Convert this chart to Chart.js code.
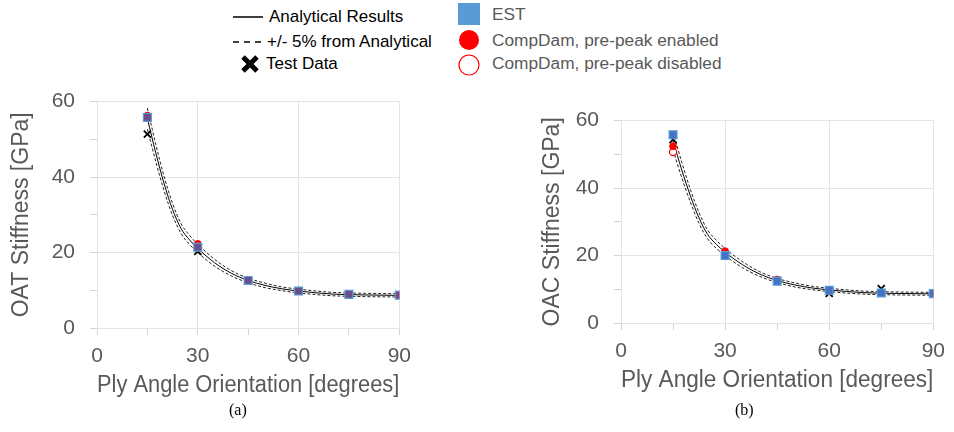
<!DOCTYPE html>
<html>
<head>
<meta charset="utf-8">
<script src="https://cdn.jsdelivr.net/npm/chart.js@4.4.1/dist/chart.umd.min.js"></script>
<style>
  body { margin: 0; width: 954px; height: 432px; background: #fff; position: relative; overflow: hidden; font-family: "Liberation Sans", Arial, sans-serif; }
  .box { position: absolute; }
  .lg { position: absolute; height: 20px; line-height: 20px; white-space: nowrap; }
  .lg.left { color: #000; font-size: 17px; }
  .lg.right { color: #595959; font-size: 17.3px; }
  .cap { position: absolute; font-family: "Liberation Serif", "Times New Roman", serif; font-size: 16px; color: #000; }
</style>
</head>
<body>
<svg class="box" style="left:0;top:0" width="954" height="85">
  <line x1="233" y1="17" x2="263" y2="17" stroke="#000" stroke-width="1.5"/>
  <line x1="233" y1="42" x2="263" y2="42" stroke="#000" stroke-width="1.5" stroke-dasharray="6,5"/>
  <line x1="243" y1="57" x2="257" y2="71" stroke="#000" stroke-width="5"/>
  <line x1="257" y1="57" x2="243" y2="71" stroke="#000" stroke-width="5"/>
  <rect x="458" y="3" width="22" height="22" fill="#5b9bd5"/>
  <circle cx="469" cy="40" r="10" fill="#ff0000"/>
  <circle cx="469" cy="65" r="10" fill="none" stroke="#ff0000" stroke-width="1.2"/>
</svg>
<div class="lg left" style="left:269px;top:7px">Analytical Results</div>
<div class="lg left" style="left:267px;top:32px">+/- 5% from Analytical</div>
<div class="lg left" style="left:266px;top:54px">Test Data</div>
<div class="lg right" style="left:492px;top:4px">EST</div>
<div class="lg right" style="left:492px;top:30px">CompDam, pre-peak enabled</div>
<div class="lg right" style="left:492px;top:53px">CompDam, pre-peak disabled</div>

<div class="box" style="left:0;top:74px;width:420px;height:329px"><canvas id="chartA"></canvas></div>
<div class="box" style="left:520px;top:93px;width:434px;height:305px"><canvas id="chartB"></canvas></div>

<div class="cap" style="left:229px;top:401px">(a)</div>
<div class="cap" style="left:735px;top:401px">(b)</div>

<script>
// curve sample angles and values
const curveAngles = [15, 17.5, 20, 22.5, 25, 27.5, 30, 35, 40, 45, 50, 55, 60, 70, 75, 80, 90];
const analyticalA = [55.5, 46.4, 38.2, 31.4, 26.4, 23.4, 21.1, 17.3, 14.5, 12.6, 11.3, 10.4, 9.8, 9.0, 8.85, 8.75, 8.65];
const upperA = [58.3, 48.7, 40.1, 33.0, 27.7, 24.6, 22.2, 18.2, 15.2, 13.2, 11.9, 10.9, 10.3, 9.45, 9.29, 9.19, 9.08];
const lowerA = [52.7, 44.1, 36.3, 29.8, 25.1, 22.2, 20.0, 16.4, 13.8, 12.0, 10.7, 9.9, 9.3, 8.55, 8.41, 8.31, 8.22];
const analyticalB = [54.0, 45.4, 37.7, 31.1, 26.2, 23.3, 21.0, 17.3, 14.5, 12.6, 11.3, 10.4, 9.8, 9.0, 8.85, 8.75, 8.65];
const upperB = [56.7, 47.7, 39.6, 32.7, 27.5, 24.5, 22.1, 18.2, 15.2, 13.2, 11.9, 10.9, 10.3, 9.45, 9.29, 9.19, 9.08];
const lowerB = [51.3, 43.1, 35.8, 29.5, 24.9, 22.1, 20.0, 16.4, 13.8, 12.0, 10.7, 9.9, 9.3, 8.55, 8.41, 8.31, 8.22];

// ply angles of the simulations / tests
const plyAngles = [15, 30, 45, 60, 75, 90];
const estA = [55.8, 21.4, 12.6, 9.8, 8.9, 8.7];
const compDamOnA = [56.3, 22.3, 12.7, 9.9, 8.9, 8.7];
const compDamOffA = [null, null, null, null, null, null];
const testA = [51.4, 20.3, null, null, null, null];
const estB = [55.8, 20.0, 12.4, 9.7, 8.9, 8.7];
const compDamOnB = [52.4, 21.3, 12.9, 9.8, 8.9, 8.7];
const compDamOffB = [50.7, null, null, null, null, null];
const testB = [54.4, null, null, 8.8, 10.2, null];

// axes
const xTicks = [0, 30, 60, 90];
const xMinorTicks = [0, 15, 30, 45, 60, 75, 90];
const yTicks = [0, 20, 40, 60];
const yMinorTicks = [0, 10, 20, 30, 40, 50, 60];

const FONT = '"Liberation Sans", Arial, sans-serif';
const GREY = '#595959';
const GRID = '#e4e4e4';

function pts(xs, ys) {
  return xs.map((x, i) => ({ x, y: ys[i] })).filter(p => p.y !== null);
}

function lineSet(label, ys, dashed) {
  return {
    label,
    data: pts(curveAngles, ys),
    showLine: true,
    borderColor: dashed ? '#222' : '#000',
    borderWidth: 1,
    borderDash: dashed ? [3, 2] : [],
    pointRadius: 0,
    cubicInterpolationMode: 'monotone',
    order: 10
  };
}

function buildChart(id, opts) {
  const ctx = document.getElementById(id).getContext('2d');
  return new Chart(ctx, {
    type: 'scatter',
    data: {
      datasets: [
        {
          label: 'EST',
          data: pts(plyAngles, opts.est),
          pointStyle: 'rect',
          pointRadius: 5.6,
          backgroundColor: opts.estFill,
          borderColor: '#5b9bd5',
          borderWidth: 1.2,
          order: 1
        },
        {
          label: 'CompDam, pre-peak enabled',
          data: pts(plyAngles, opts.on),
          pointStyle: 'circle',
          pointRadius: 3.4,
          backgroundColor: '#ff0000',
          borderColor: '#ff0000',
          borderWidth: 1,
          order: 2
        },
        {
          label: 'CompDam, pre-peak disabled',
          data: pts(plyAngles, opts.off),
          pointStyle: 'circle',
          pointRadius: 3.6,
          backgroundColor: '#ffffff',
          borderColor: '#ff0000',
          borderWidth: 1.2,
          order: 3
        },
        {
          label: 'Test Data',
          data: pts(plyAngles, opts.test),
          pointStyle: 'crossRot',
          pointRadius: 5,
          borderColor: '#000',
          borderWidth: 1.8,
          order: 4
        },
        lineSet('Analytical Results', opts.analytical, false),
        lineSet('+5%', opts.upper, true),
        lineSet('-5%', opts.lower, true)
      ]
    },
    options: {
      responsive: true,
      maintainAspectRatio: false,
      animation: false,
      layout: { padding: { top: 0, right: 18, left: 0, bottom: 0 } },
      plugins: { legend: { display: false }, tooltip: { enabled: false } },
      scales: {
        x: {
          type: 'linear',
          min: 0,
          max: 90,
          afterBuildTicks: s => { s.ticks = xMinorTicks.map(v => ({ value: v })); },
          afterFit: s => { s.height = 75; },
          ticks: {
            autoSkip: false,
            maxRotation: 0,
            padding: 9,
            color: GREY,
            font: { family: FONT, size: 21 },
            callback: v => xTicks.includes(v) ? String(v) : ''
          },
          grid: {
            color: c => xTicks.includes(c.tick && c.tick.value) ? GRID : 'rgba(0,0,0,0)',
            tickColor: '#d4d4d4',
            tickLength: 7
          },
          border: { color: GRID },
          title: {
            display: true,
            text: 'Ply Angle Orientation [degrees]',
            color: GREY,
            font: { family: FONT, size: 23 },
            padding: { top: 4, bottom: 4 }
          }
        },
        y: {
          type: 'linear',
          min: 0,
          max: 60,
          afterBuildTicks: s => { s.ticks = yMinorTicks.map(v => ({ value: v })); },
          afterFit: s => { s.width = opts.yWidth; },
          ticks: {
            autoSkip: false,
            padding: 15,
            color: GREY,
            font: { family: FONT, size: 21 },
            callback: v => yTicks.includes(v) ? String(v) : ''
          },
          grid: {
            color: c => yTicks.includes(c.tick && c.tick.value) ? GRID : 'rgba(0,0,0,0)',
            tickColor: '#d4d4d4',
            tickLength: 7
          },
          border: { color: GRID },
          title: {
            display: true,
            text: opts.yTitle,
            color: GREY,
            font: { family: FONT, size: 23 },
            padding: { top: opts.yTitlePad, bottom: 4 }
          }
        }
      }
    }
  });
}

document.addEventListener('DOMContentLoaded', () => {
  window.chartA = buildChart('chartA', {
    est: estA, on: compDamOnA, off: compDamOffA, test: testA,
    analytical: analyticalA, upper: upperA, lower: lowerA,
    estFill: '#6c4f8a', yTitle: 'OAT Stiffness [GPa]',
    yWidth: 97, yTitlePad: 8
  });
  window.chartB = buildChart('chartB', {
    est: estB, on: compDamOnB, off: compDamOffB, test: testB,
    analytical: analyticalB, upper: upperB, lower: lowerB,
    estFill: '#4472c4', yTitle: 'OAC Stiffness [GPa]',
    yWidth: 101, yTitlePad: 19
  });
});
</script>
</body>
</html>
